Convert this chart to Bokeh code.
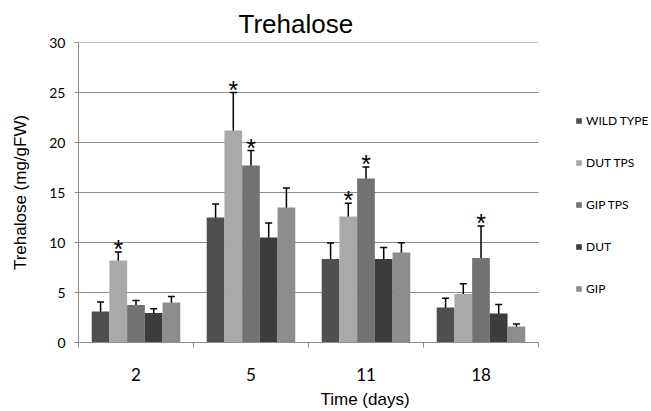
import numpy as np
from bokeh.plotting import figure
from bokeh.models import (ColumnDataSource, Whisker, FixedTicker,
                          Legend, LegendItem, Range1d, TeeHead)
from bokeh.embed import file_html
from bokeh.resources import INLINE
from bokeh.core.properties import value

# ---------------- data ----------------
days = ["2", "5", "11", "18"]
series = ["WILD TYPE", "DUT TPS", "GIP TPS", "DUT", "GIP"]
colors = ["#4f4f4f", "#a9a9a9", "#727272", "#3c3c3c", "#8d8d8d"]

wild_type = [3.1, 12.5, 8.35, 3.5]
wild_type_err = [0.95, 1.35, 1.6, 0.93]
dut_tps = [8.2, 21.2, 12.6, 4.85]
dut_tps_err = [0.86, 3.8, 1.33, 1.03]
gip_tps = [3.75, 17.7, 16.4, 8.45]
gip_tps_err = [0.45, 1.5, 1.15, 3.2]
dut = [2.95, 10.5, 8.35, 2.9]
dut_err = [0.43, 1.45, 1.15, 0.9]
gip = [4.0, 13.5, 9.0, 1.6]
gip_err = [0.6, 1.95, 0.97, 0.25]

# significance markers (*) per series
wild_type_sig = [False, False, False, False]
dut_tps_sig = [True, True, True, False]
gip_tps_sig = [False, True, True, True]
dut_sig = [False, False, False, False]
gip_sig = [False, False, False, False]

y_ticks = [0, 5, 10, 15, 20, 25, 30]

means = [wild_type, dut_tps, gip_tps, dut, gip]
errs = [wild_type_err, dut_tps_err, gip_tps_err, dut_err, gip_err]
sigs = [wild_type_sig, dut_tps_sig, gip_tps_sig, dut_sig, gip_sig]

# ---------------- figure ----------------
TICK_FONT = "Lato"
W, H = 651, 411
LEFT, PLOT_RIGHT = 78, 538          # plotting area spans 78..538 px; legend lives to its right
ncat = len(days)
x_end = ncat * (W - LEFT) / (PLOT_RIGHT - LEFT)

p = figure(width=W, height=H, output_backend="svg", toolbar_location=None,
           x_range=Range1d(0, x_end), y_range=Range1d(0, 30),
           min_border_left=LEFT, min_border_right=0, min_border_top=42, min_border_bottom=66)
p.outline_line_color = None
p.background_fill_color = "white"
p.border_fill_color = "white"
p.xgrid.visible = False
p.ygrid.visible = False

# horizontal grid lines limited to the plotting area
grid_y = y_ticks[1:]
p.segment(x0=[0] * len(grid_y), x1=[ncat] * len(grid_y), y0=grid_y, y1=grid_y,
          line_color="#8c8c8c", line_width=1, level="underlay")

bar_w = 0.154
n = len(series)
items = []
star_x, star_y = [], []
for s in range(n):
    xs = [i + 0.5 + (s - (n - 1) / 2) * bar_w for i in range(ncat)]
    m = means[s]
    e = errs[s]
    src = ColumnDataSource(dict(x=xs, top=m,
                                upper=[a + b for a, b in zip(m, e)],
                                lower=[a - b for a, b in zip(m, e)]))
    r = p.vbar(x="x", top="top", width=bar_w, bottom=0, source=src,
               fill_color=colors[s], line_color=None)
    items.append(LegendItem(label=series[s], renderers=[r]))
    w = Whisker(base="x", upper="upper", lower="lower", source=src,
                line_color="black", line_width=1.5,
                upper_head=TeeHead(size=7, line_color="black", line_width=1.5),
                lower_head=TeeHead(size=7, line_color="black", line_width=1.5))
    p.add_layout(w)
    for i in range(ncat):
        if sigs[s][i]:
            star_x.append(xs[i])
            star_y.append(m[i] + e[i])

p.text(x=star_x, y=star_y, text=["*"] * len(star_x), text_align="center",
       text_baseline="middle", y_offset=-3, text_font=value("Liberation Sans"),
       text_font_size="25px", text_color="black")

# ---------------- axes ----------------
xt = FixedTicker(ticks=[i + 0.5 for i in range(ncat)],
                 minor_ticks=list(range(ncat + 1)))
p.xaxis.ticker = xt
p.xaxis.bounds = (0, ncat)
p.xaxis.major_label_overrides = {i + 0.5: d for i, d in enumerate(days)}
p.xaxis.major_tick_out = 0
p.xaxis.major_tick_in = 0
p.xaxis.minor_tick_out = 5
p.xaxis.minor_tick_in = 0
p.xaxis.minor_tick_line_color = "#8c8c8c"
p.xaxis.axis_line_color = "#8c8c8c"
p.xaxis.major_label_text_font = TICK_FONT
p.xaxis.major_label_text_font_size = "17px"
p.xaxis.major_label_text_color = "black"
p.xaxis.major_label_standoff = 20
p.xaxis.axis_label = "Time (days)"
p.xaxis.axis_label_text_font = "Liberation Sans"
p.xaxis.axis_label_text_font_style = "normal"
p.xaxis.axis_label_text_font_size = "17px"
p.xaxis.axis_label_text_color = "black"
p.xaxis.axis_label_standoff = 6

p.yaxis.ticker = FixedTicker(ticks=y_ticks)
p.yaxis.minor_tick_line_color = None
p.yaxis.major_tick_out = 4
p.yaxis.major_tick_in = 0
p.yaxis.major_tick_line_color = "#8c8c8c"
p.yaxis.axis_line_color = "#8c8c8c"
p.yaxis.major_label_text_font = TICK_FONT
p.yaxis.major_label_text_font_size = "14px"
p.yaxis.major_label_text_color = "black"
p.yaxis.major_label_standoff = 9
p.yaxis.axis_label = "Trehalose (mg/gFW)"
p.yaxis.axis_label_text_font = "Liberation Sans"
p.yaxis.axis_label_text_font_style = "normal"
p.yaxis.axis_label_text_font_size = "17px"
p.yaxis.axis_label_text_color = "black"
p.yaxis.axis_label_standoff = 16

# ---------------- title ----------------
p.title.text = "Trehalose"
p.title.text_font = "Liberation Sans"
p.title.text_font_style = "normal"
p.title.text_font_size = "26px"
p.title.text_color = "black"
p.title.align = "left"
p.title.offset = 160
p.title.standoff = 7

# ---------------- legend ----------------
legend = Legend(items=items, location=(497, 44), orientation="vertical",
                glyph_width=7, glyph_height=7, label_standoff=4,
                label_text_font=TICK_FONT, label_text_font_size="12px",
                label_text_color="black",
                label_height=20, spacing=22, padding=0, margin=0,
                border_line_color=None, background_fill_alpha=0)
p.add_layout(legend)

open("out.html", "w").write(file_html(p, INLINE))
